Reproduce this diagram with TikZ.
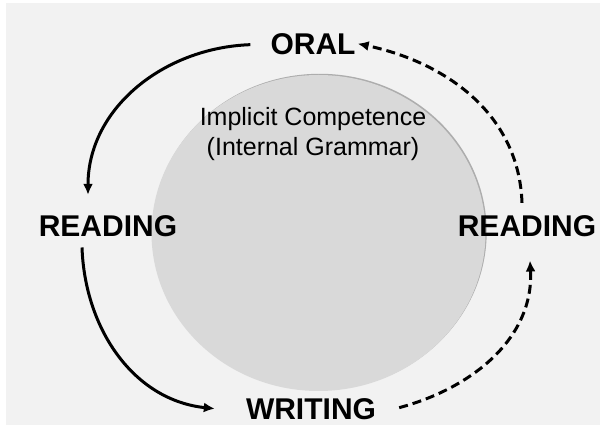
\documentclass[tikz,border=0pt]{standalone}
\usepackage{tikz}
\usetikzlibrary{arrows.meta}
\usetikzlibrary{shadows}
\usepackage{fontspec}
\setmainfont{Liberation Sans}
\definecolor{bgrey}{HTML}{F2F2F2}
\definecolor{disc}{HTML}{D9D9D9}
\definecolor{rim}{HTML}{7F7F7F}

\begin{document}
\begin{tikzpicture}[x=1pt,y=1pt,
    skill/.style={inner sep=0pt,anchor=base,font=\fontsize{30}{34}\selectfont\bfseries},
    flow/.style={line width=3pt,-{Latex[length=11pt,width=10pt]}},
    later/.style={flow,dash pattern=on 9pt off 5pt}]
      \useasboundingbox (0,0) rectangle (600,425);
      \fill[bgrey] (6,0) rectangle (600,422);
      % the disc
      \fill[disc,drop shadow={shadow xshift=1.2pt,shadow yshift=1.2pt,fill=rim,opacity=0.6}]
            (318.5,192) ellipse [x radius=167, y radius=158];
      \node[align=center,font=\fontsize{25}{30}\selectfont,anchor=base] (gram) at (313,269)
            {Implicit Competence\\(Internal Grammar)};

      \node[skill] (oral)  at (313,370) {ORAL};
      \node[skill] (readl) at (108,188) {READING};
      \node[skill] (readr) at (527,188) {READING};
      \node[skill] (writ)  at (311,5)   {WRITING};

      \draw[flow]  ([xshift=-20pt]oral.west) to[out=182,in=90] ([shift={(-20pt,21pt)}]readl.north);
      \draw[flow]  ([shift={(-26pt,-10pt)}]readl.south) to[out=-88,in=174] ([shift={(-31pt,1pt)}]writ.west);
      \draw[later] ([shift={(23pt,2pt)}]writ.east) to[out=15,in=-87] ([shift={(3pt,-23pt)}]readr.south);
      \draw[later] ([shift={(-5pt,13pt)}]readr.north) to[out=92,in=-12] ([shift={(2pt,1pt)}]oral.east);
\end{tikzpicture}
\end{document}
